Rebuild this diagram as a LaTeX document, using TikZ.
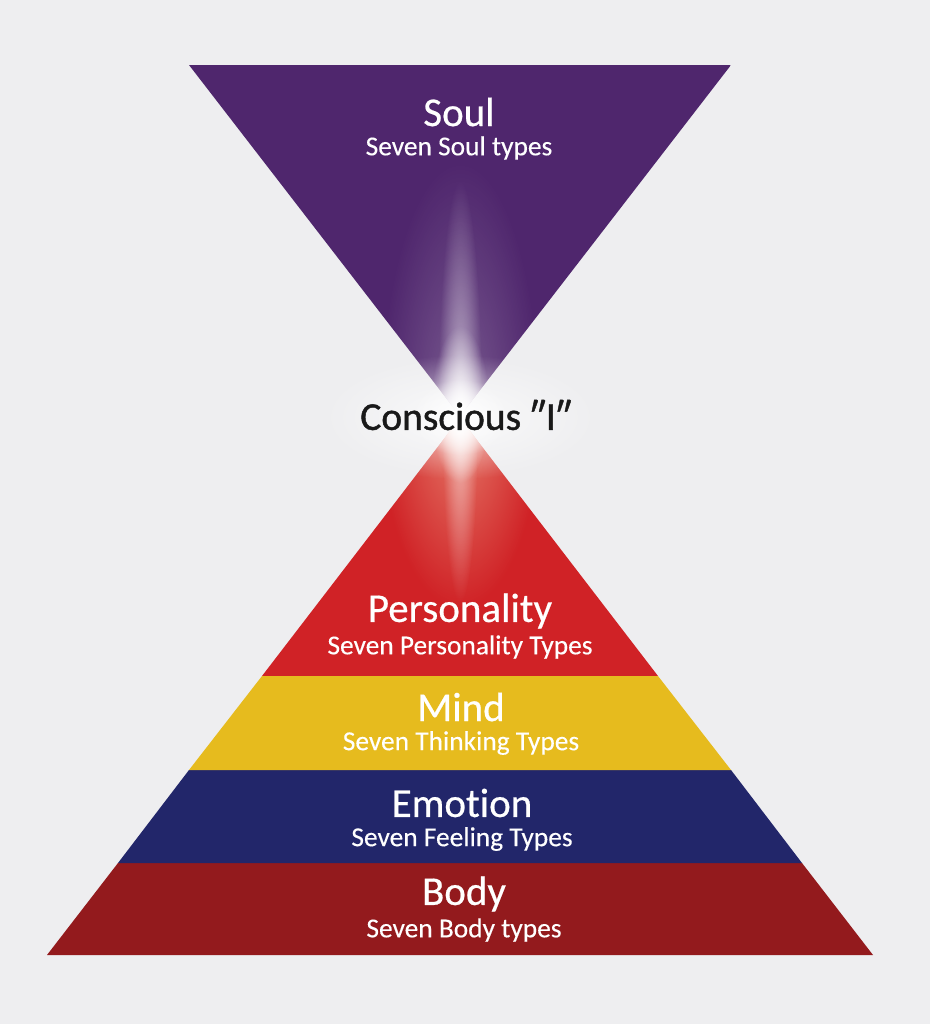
\documentclass[tikz,border=0pt]{standalone}
\usepackage{fontspec}
\setmainfont[Ligatures=NoCommon]{Carlito}
\newfontfamily\heavyfont[Ligatures=NoCommon, FakeBold=0.5]{Carlito}
\newfontfamily\detailfont[Ligatures=NoCommon, FakeBold=0.25]{Carlito}
\newfontfamily\centrefont[Ligatures=NoCommon, FakeBold=1.1]{Carlito}
\usetikzlibrary{positioning, fadings}
\tikzstyle{title} = [rectangle, text centered, inner sep=0pt, text=white, font=\heavyfont\fontsize{41}{44}\selectfont]
\tikzstyle{detail} = [rectangle, text centered, inner sep=0pt, text=white, font=\detailfont\fontsize{27.4}{30}\selectfont]
\tikzstyle{centre} = [rectangle, text centered, inner sep=0pt, text=black!90, font=\centrefont\fontsize{39.5}{42}\selectfont]
\tikzstyle{glow} = [fill=white, path fading=glowfade]
\tikzfading[name=glowfade, inner color=transparent!0, outer color=transparent!100]
\definecolor{paper}{HTML}{EEEEF0}
\definecolor{soulpurple}{HTML}{4F266D}
\definecolor{personred}{HTML}{D02226}
\definecolor{mindyellow}{HTML}{E6BB1E}
\definecolor{emotionblue}{HTML}{22266A}
\definecolor{bodyred}{HTML}{931A1D}
\definecolor{salmon}{HTML}{F5B89A}
\begin{document}
\begin{tikzpicture}[x=1pt, y=-1pt, node distance=36pt]
\useasboundingbox (0,0) rectangle (930,1024);
\fill [paper] (0,0) rectangle (930,1024);
% soul triangle
\begin{scope}
\clip (189,65) -- (731,65) -- (460,416) -- cycle;
\fill [soulpurple] (189,65) rectangle (731,416);
\fill [glow, opacity=0.25] (460,416) ellipse (80 and 255);
\fill [glow, opacity=0.55] (460,416) ellipse (22 and 235);
\fill [glow] (460,416) ellipse (30 and 90);
\end{scope}
% pyramid bands
\fill [bodyred] (118,863) -- (802,863) -- (873,955) -- (47,955) -- cycle;
\fill [emotionblue] (189,770) -- (731,770) -- (802,863) -- (118,863) -- cycle;
\fill [mindyellow] (262,676) -- (658,676) -- (731,770) -- (189,770) -- cycle;
\begin{scope}
\clip (460,418) -- (658,676) -- (262,676) -- cycle;
\fill [personred] (262,418) rectangle (658,676);
\fill [salmon, path fading=glowfade, opacity=0.6] (460,418) ellipse (80 and 190);
\fill [glow, opacity=0.55] (460,418) ellipse (18 and 185);
\fill [glow] (460,418) ellipse (28 and 65);
\end{scope}
% glow round the centre
\fill [glow, opacity=0.7] (460,417) ellipse (140 and 62);
\fill [glow] (460,417) ellipse (50 and 38);
\node (soul) [title] at (459,112) {Soul};
\node (soultypes) [detail, below of=soul] {Seven Soul types};
\node (conscious) [centre] at (466,415) {Conscious ″I″};
\node (personality) [title] at (460,611) {Personality};
\node (personalitytypes) [detail, below of=personality] {Seven Personality Types};
\node (mind) [title] at (461,707) {Mind};
\node (mindtypes) [detail, below of=mind] {Seven Thinking Types};
\node (emotion) [title] at (462,803) {Emotion};
\node (emotiontypes) [detail, below of=emotion] {Seven Feeling Types};
\node (body) [title] at (464,894) {Body};
\node (bodytypes) [detail, below of=body] {Seven Body types};
\end{tikzpicture}
\end{document}
